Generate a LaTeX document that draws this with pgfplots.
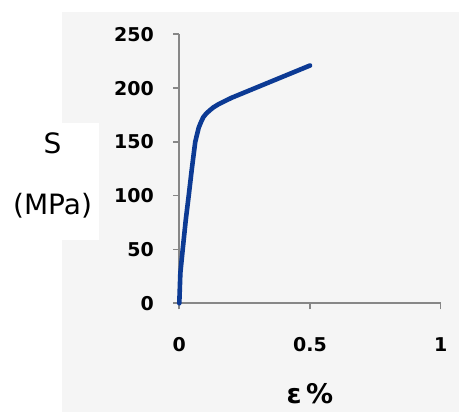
\documentclass[border=0pt]{standalone}
\usepackage{pgfplots}
\pgfplotsset{compat=1.18}
\usepackage{fontspec}
\setmainfont{DejaVu Sans}
\definecolor{bg}{RGB}{245,245,245}
\definecolor{curve}{RGB}{12,58,148}
\definecolor{axgray}{RGB}{135,135,135}
\begin{document}
\begin{tikzpicture}[x=1pt,y=1pt]
\path[use as bounding box] (0,0) rectangle (459,412);
\fill[white] (0,0) rectangle (459,412);
\fill[bg] (62,0) rectangle (459,400);
\fill[white] (0,172) rectangle (99,289);
\begin{axis}[
  at={(179.3pt,108.7pt)}, anchor=origin,
  scale only axis, width=261.4pt, height=269pt,
  xmin=0, xmax=1, ymin=0, ymax=250,
  xtick={0,0.5,1}, ytick={0,50,...,250},
  axis lines*=left,
  axis line style={axgray, line width=1.9pt},
  every tick/.style={axgray, line width=1.6pt},
  tick align=outside, major tick length=6pt,
  clip=false,
  /pgf/number format/assume math mode=true,
  ticklabel style={font=\bfseries\fontsize{19}{19}\selectfont, text=black},
  yticklabel style={anchor=east, xshift=-16pt},
  xticklabel style={anchor=center, yshift=-35pt},
  xticklabels={0,0.5,1},
  xlabel={ε\,\%},
  xlabel style={font=\bfseries\fontsize{27}{27}\selectfont, inner sep=1pt, at={(axis description cs:0.5,0)}, anchor=center, yshift=-90pt},
  ylabel={S\\[33pt](MPa)},
  ylabel style={font=\fontsize{28}{28}\selectfont, rotate=-90, align=center, at={(axis description cs:-0.485,0.477)}, anchor=center},
]
\addplot[curve, line width=4.6pt, line join=round, line cap=round] coordinates {
(0,0) (0.004,28) (0.013,50) (0.025,78) (0.036,100) (0.048,125) (0.061,150)
(0.074,163) (0.084,169) (0.092,173) (0.102,176) (0.115,179) (0.13,182)
(0.15,185) (0.2,191) (0.25,196) (0.3,201) (0.35,206) (0.4,211) (0.45,216) (0.5,221)
};
\end{axis}
\end{tikzpicture}
\end{document}
